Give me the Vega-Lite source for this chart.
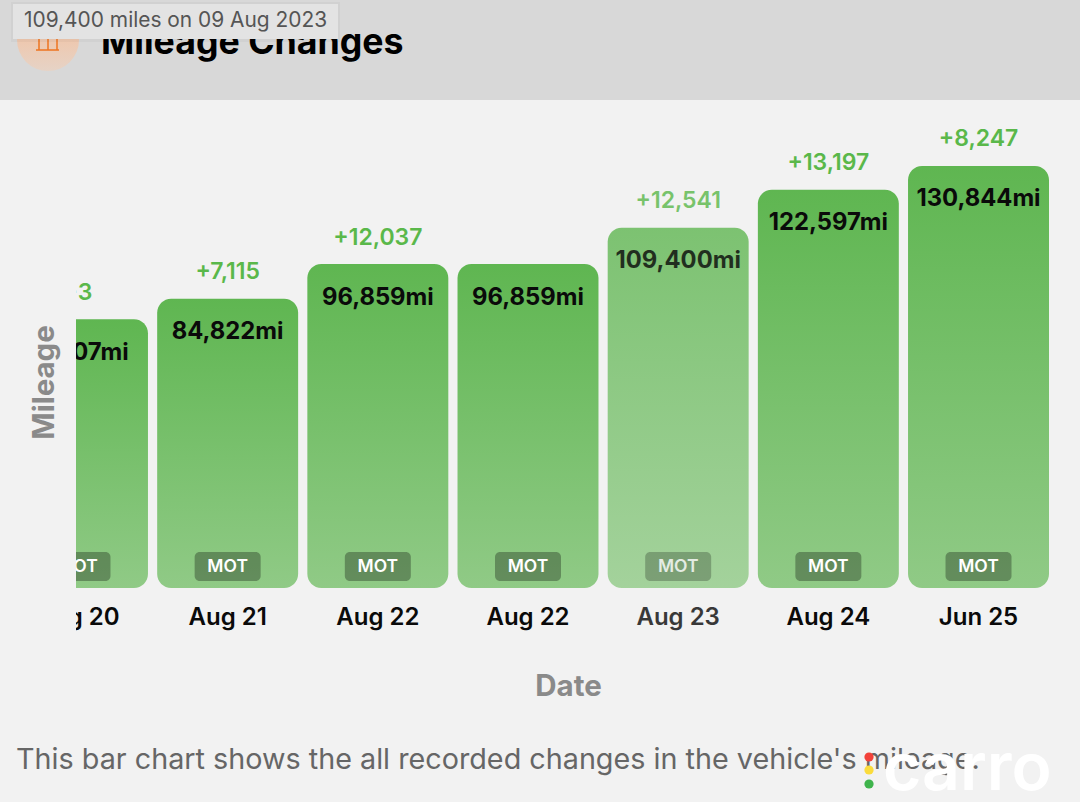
{
  "$schema": "https://vega.github.io/schema/vega-lite/v6.json",
  "width": 984,
  "height": 564,
  "autosize": "none",
  "padding": {"left": 76, "top": 100, "right": 20, "bottom": 138},
  "background": "#f2f2f2",
  "config": {
    "view": {"stroke": null},
    "font": "Inter",
    "axis": {"domain": false, "ticks": false, "labels": false, "grid": false, "titleFont": "Inter", "titleFontSize": 29.5, "titleFontWeight": 700, "titleColor": "#8a8a8a"}
  },
  "resolve": {"scale": {"x": "independent", "y": "independent"}, "axis": {"x": "independent", "y": "independent"}},
  "layer": [
    {
      "data": {"values": [{}]},
      "layer": [
        {
          "mark": {"type": "rect", "color": "#d8d8d8", "clip": false},
          "encoding": {
            "x": {"datum": 0, "type": "quantitative", "scale": {"domain": [76, 1060]}, "axis": null},
            "x2": {"datum": 1080},
            "y": {"datum": 0, "type": "quantitative", "scale": {"domain": [100, 664], "range": [0, 564]}, "axis": null},
            "y2": {"datum": 100}
          }
        }
      ]
    },
    {
      "data": {
        "values": [
          {"id": 1, "date": "Aug 20", "mileage": 77707, "mileageText": "77,707mi", "change": "+3"},
          {"id": 2, "date": "Aug 21", "mileage": 84822, "mileageText": "84,822mi", "change": "+7,115"},
          {"id": 3, "date": "Aug 22", "mileage": 96859, "mileageText": "96,859mi", "change": "+12,037"},
          {"id": 4, "date": "Aug 22", "mileage": 96859, "mileageText": "96,859mi", "change": ""},
          {"id": 5, "date": "Aug 23", "mileage": 109400, "mileageText": "109,400mi", "change": "+12,541"},
          {"id": 6, "date": "Aug 24", "mileage": 122597, "mileageText": "122,597mi", "change": "+13,197"},
          {"id": 7, "date": "Jun 25", "mileage": 130844, "mileageText": "130,844mi", "change": "+8,247"}
        ]
      },
      "encoding": {
        "x": {"field": "id", "type": "ordinal", "sort": null, "title": "Date", "axis": {"titlePadding": 8, "titleX": 492}, "scale": {"range": [-69, 973], "paddingInner": 0.0613, "paddingOuter": 0}},
        "y": {"field": "mileage", "type": "quantitative", "title": "Mileage", "axis": {"titlePadding": 17}, "scale": {"domain": [-41833, 153728]}},
        "opacity": {"condition": {"test": "datum.id == 5", "value": 0.8}, "value": 1}
      },
      "layer": [
        {
          "mark": {
            "type": "bar", "cornerRadius": 14, "clip": true,
            "color": {"gradient": "linear", "x1": 0, "y1": 0, "x2": 0, "y2": 1, "stops": [{"offset": 0, "color": "#5fb651"}, {"offset": 1, "color": "#90ca86"}]}
          },
          "encoding": {"y2": {"datum": -15481}}
        },
        {
          "mark": {"type": "text", "clip": true, "dy": 33.5, "fontSize": 23.8, "fontWeight": 700, "color": "#0a0a0a", "baseline": "middle"},
          "encoding": {"text": {"field": "mileageText"}}
        },
        {
          "mark": {"type": "text", "clip": true, "dy": -26.5, "fontSize": 23, "fontWeight": 600, "color": "#5ab84a", "baseline": "middle"},
          "encoding": {"text": {"field": "change"}}
        },
        {
          "mark": {"type": "bar", "clip": true, "width": 66, "cornerRadius": 5, "color": "#000000"},
          "encoding": {
            "y": {"datum": -2998, "type": "quantitative", "scale": {"domain": [-41833, 153728]}},
            "y2": {"datum": -13054},
            "opacity": {"condition": {"test": "datum.id == 5", "value": 0.24}, "value": 0.3}
          }
        },
        {
          "mark": {"type": "text", "clip": true, "fontSize": 17.5, "fontWeight": 600, "color": "#ffffff", "baseline": "middle", "text": "MOT"},
          "encoding": {"y": {"datum": -8199, "type": "quantitative", "scale": {"domain": [-41833, 153728]}}}
        },
        {
          "mark": {"type": "text", "clip": true, "fontSize": 24, "fontWeight": 600, "color": "#0a0a0a", "baseline": "middle"},
          "encoding": {
            "y": {"datum": -25883, "type": "quantitative", "scale": {"domain": [-41833, 153728]}},
            "text": {"field": "date"}
          }
        }
      ]
    },
    {
      "data": {"values": [{}]},
      "layer": [
        {
          "mark": {"type": "point", "filled": true, "size": 3844, "clip": false, "opacity": 1, "color": {"gradient": "linear", "x1": 0, "y1": 0, "x2": 0, "y2": 1, "stops": [{"offset": 0, "color": "#f6bd98"}, {"offset": 1, "color": "#e6d3c6"}]}},
          "encoding": {
            "x": {"datum": 48, "type": "quantitative", "scale": {"domain": [76, 1060]}, "axis": null},
            "y": {"datum": 40, "type": "quantitative", "scale": {"domain": [100, 664], "range": [0, 564]}, "axis": null}
          }
        },
        {
          "mark": {"type": "rule", "color": "#ee7420", "strokeWidth": 1.5, "clip": false},
          "encoding": {
            "x": {"datum": 36, "type": "quantitative", "scale": {"domain": [76, 1060]}, "axis": null},
            "x2": {"datum": 59},
            "y": {"datum": 50, "type": "quantitative", "scale": {"domain": [100, 664], "range": [0, 564]}, "axis": null}
          }
        },
        {
          "mark": {"type": "rule", "color": "#ee7420", "strokeWidth": 1.5, "clip": false},
          "encoding": {
            "x": {"datum": 39, "type": "quantitative", "scale": {"domain": [76, 1060]}, "axis": null},
            "y": {"datum": 36, "type": "quantitative", "scale": {"domain": [100, 664], "range": [0, 564]}, "axis": null},
            "y2": {"datum": 50}
          }
        },
        {
          "mark": {"type": "rule", "color": "#ee7420", "strokeWidth": 1.5, "clip": false},
          "encoding": {
            "x": {"datum": 48, "type": "quantitative", "scale": {"domain": [76, 1060]}, "axis": null},
            "y": {"datum": 36, "type": "quantitative", "scale": {"domain": [100, 664], "range": [0, 564]}, "axis": null},
            "y2": {"datum": 50}
          }
        },
        {
          "mark": {"type": "rule", "color": "#ee7420", "strokeWidth": 1.5, "clip": false},
          "encoding": {
            "x": {"datum": 57, "type": "quantitative", "scale": {"domain": [76, 1060]}, "axis": null},
            "y": {"datum": 36, "type": "quantitative", "scale": {"domain": [100, 664], "range": [0, 564]}, "axis": null},
            "y2": {"datum": 50}
          }
        },
        {
          "mark": {"type": "text", "text": "Mileage Changes", "align": "left", "baseline": "alphabetic", "fontSize": 35.7, "fontWeight": 700, "color": "#000000", "clip": false},
          "encoding": {
            "x": {"datum": 101, "type": "quantitative", "scale": {"domain": [76, 1060]}, "axis": null},
            "y": {"datum": 54, "type": "quantitative", "scale": {"domain": [100, 664], "range": [0, 564]}, "axis": null}
          }
        },
        {
          "mark": {"type": "rect", "color": "#000000", "opacity": 0.03, "clip": false},
          "encoding": {
            "x": {"datum": 11, "type": "quantitative", "scale": {"domain": [76, 1060]}, "axis": null},
            "x2": {"datum": 340},
            "y": {"datum": 2, "type": "quantitative", "scale": {"domain": [100, 664], "range": [0, 564]}, "axis": null},
            "y2": {"datum": 42}
          }
        },
        {
          "mark": {"type": "rect", "color": "#e3e3e3", "clip": false},
          "encoding": {
            "x": {"datum": 13, "type": "quantitative", "scale": {"domain": [76, 1060]}, "axis": null},
            "x2": {"datum": 338},
            "y": {"datum": 4, "type": "quantitative", "scale": {"domain": [100, 664], "range": [0, 564]}, "axis": null},
            "y2": {"datum": 39}
          }
        },
        {
          "mark": {"type": "text", "text": "109,400 miles on 09 Aug 2023", "align": "left", "baseline": "middle", "fontSize": 20.9, "color": "#555555", "clip": false},
          "encoding": {
            "x": {"datum": 24, "type": "quantitative", "scale": {"domain": [76, 1060]}, "axis": null},
            "y": {"datum": 21, "type": "quantitative", "scale": {"domain": [100, 664], "range": [0, 564]}, "axis": null}
          }
        },
        {
          "mark": {"type": "text", "text": "This bar chart shows the all recorded changes in the vehicle's mileage.", "align": "left", "baseline": "middle", "fontSize": 28.75, "color": "#666666", "clip": false},
          "encoding": {
            "x": {"datum": 16, "type": "quantitative", "scale": {"domain": [76, 1060]}, "axis": null},
            "y": {"datum": 760, "type": "quantitative", "scale": {"domain": [100, 664], "range": [0, 564]}, "axis": null}
          }
        },
        {
          "mark": {"type": "text", "text": "carro", "align": "left", "baseline": "alphabetic", "fontSize": 66, "fontWeight": 600, "color": "#ffffff", "clip": false},
          "encoding": {
            "x": {"datum": 883, "type": "quantitative", "scale": {"domain": [76, 1060]}, "axis": null},
            "y": {"datum": 790, "type": "quantitative", "scale": {"domain": [100, 664], "range": [0, 564]}, "axis": null}
          }
        },
        {
          "mark": {"type": "point", "filled": true, "size": 85, "opacity": 1, "color": "#f2423a", "clip": false},
          "encoding": {
            "x": {"datum": 869, "type": "quantitative", "scale": {"domain": [76, 1060]}, "axis": null},
            "y": {"datum": 757, "type": "quantitative", "scale": {"domain": [100, 664], "range": [0, 564]}, "axis": null}
          }
        },
        {
          "mark": {"type": "point", "filled": true, "size": 85, "opacity": 1, "color": "#fbdc3c", "clip": false},
          "encoding": {
            "x": {"datum": 869, "type": "quantitative", "scale": {"domain": [76, 1060]}, "axis": null},
            "y": {"datum": 770, "type": "quantitative", "scale": {"domain": [100, 664], "range": [0, 564]}, "axis": null}
          }
        },
        {
          "mark": {"type": "point", "filled": true, "size": 85, "opacity": 1, "color": "#3fb44c", "clip": false},
          "encoding": {
            "x": {"datum": 869, "type": "quantitative", "scale": {"domain": [76, 1060]}, "axis": null},
            "y": {"datum": 784, "type": "quantitative", "scale": {"domain": [100, 664], "range": [0, 564]}, "axis": null}
          }
        }
      ]
    }
  ]
}
